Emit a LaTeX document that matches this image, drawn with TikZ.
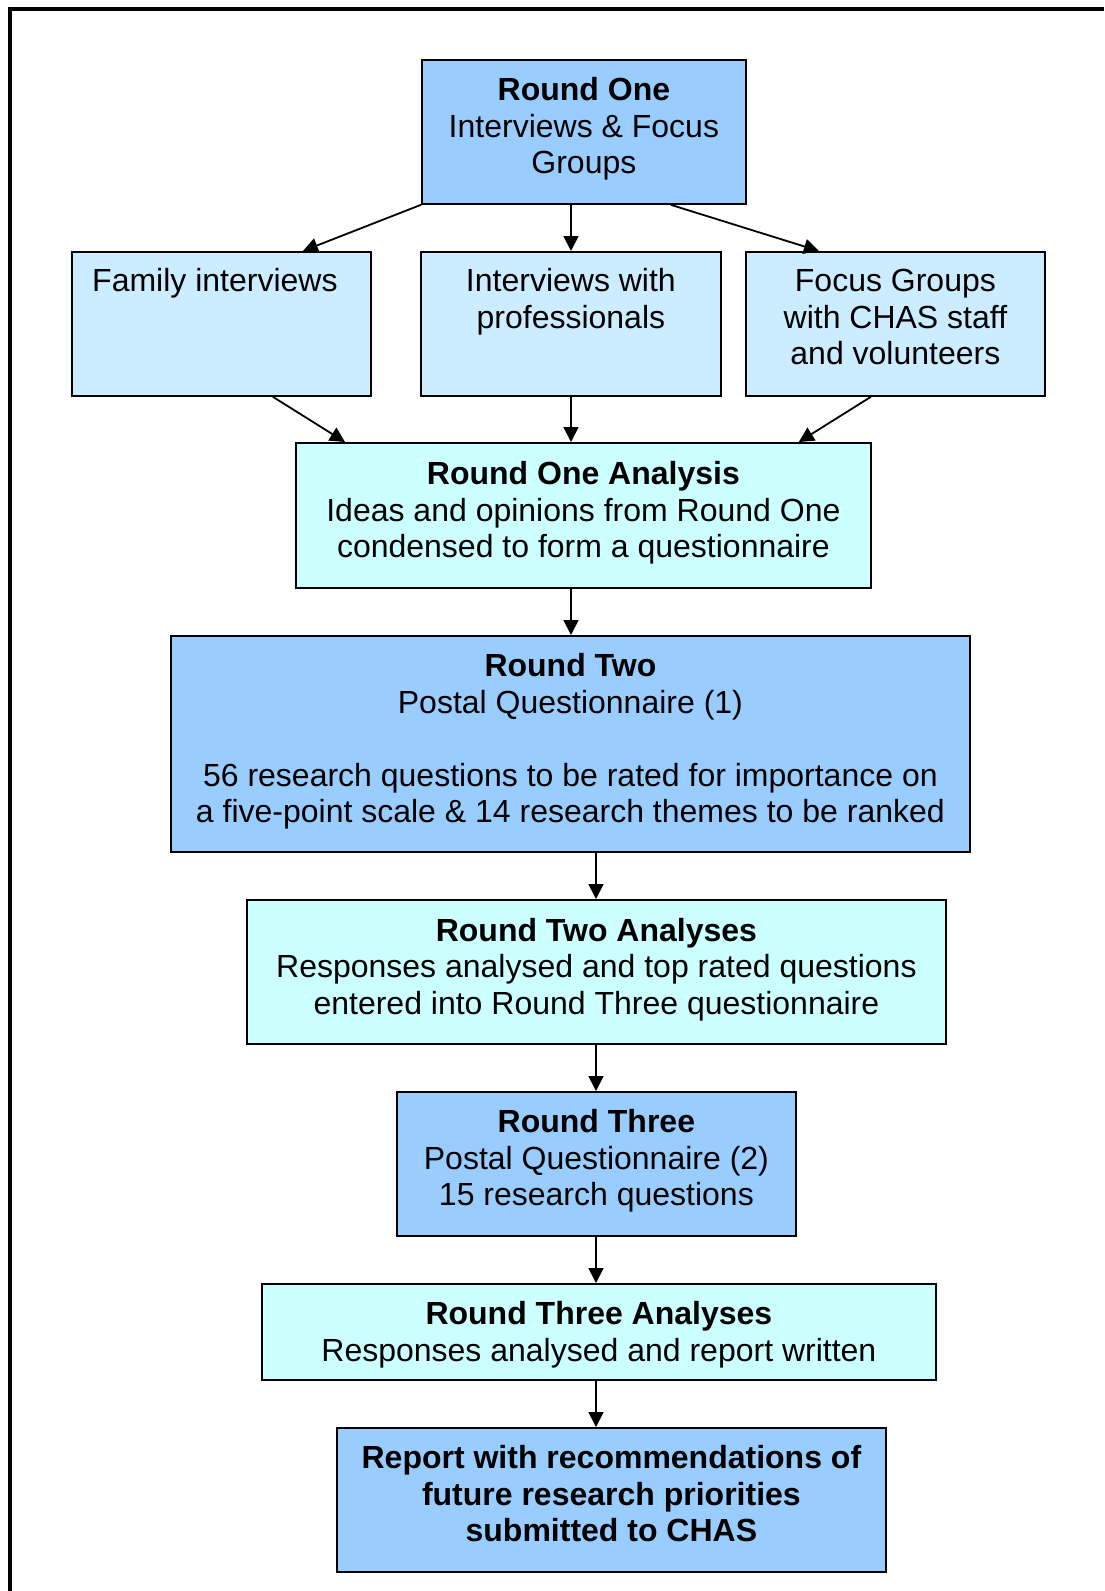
\documentclass[tikz,border=0pt]{standalone}
\usepackage{fontspec}
\setmainfont{Liberation Sans}
\usetikzlibrary{arrows.meta}
\definecolor{bluedark}{HTML}{99CCFF}
\definecolor{bluelight}{HTML}{CCECFF}
\definecolor{cyanlight}{HTML}{CCFFFF}
\tikzset{
  box/.style={draw=black, line width=1.8pt, inner sep=0pt, anchor=north west},
  txt/.style={anchor=north, inner sep=0pt, align=center, font=\fontsize{32}{36.5}\selectfont},
  arr/.style={line width=1.8pt, -{Triangle[length=15pt,width=15pt]}},
  frame/.style={line width=4pt, line join=miter}
}
\begin{document}
\begin{tikzpicture}[x=1pt,y=-1pt]
\useasboundingbox (0,0) rectangle (1104,1591);
\fill[white] (0,0) rectangle (1104,1591);
\draw[frame] (10,1591) -- (10,9) -- (1104,9);

% boxes
\node[box, fill=bluedark, minimum width=324pt, minimum height=144pt] (r1) at (421,59) {};
\node[box, fill=bluelight, minimum width=299pt, minimum height=144pt] (fam) at (71,251) {};
\node[box, fill=bluelight, minimum width=300pt, minimum height=144pt] (prof) at (420,251) {};
\node[box, fill=bluelight, minimum width=299pt, minimum height=144pt] (foc) at (745,251) {};
\node[box, fill=cyanlight, minimum width=575pt, minimum height=145pt] (roa) at (295,442) {};
\node[box, fill=bluedark, minimum width=799pt, minimum height=216pt] (r2) at (170,635) {};
\node[box, fill=cyanlight, minimum width=699pt, minimum height=144pt] (r2a) at (246,899) {};
\node[box, fill=bluedark, minimum width=399pt, minimum height=144pt] (r3) at (396,1091) {};
\node[box, fill=cyanlight, minimum width=674pt, minimum height=96pt] (r3a) at (261,1283) {};
\node[box, fill=bluedark, minimum width=549pt, minimum height=144pt] (rep) at (336,1427) {};

% texts
\node[txt] (r1t) at ([yshift=-16pt]r1.north) {\strut\textbf{Round One}\\Interviews \& Focus\\Groups};
\node[txt] (famt) at ([yshift=-15pt,xshift=-6.5pt]fam.north) {\strut Family interviews};
\node[txt] (proft) at ([yshift=-15pt]prof.north) {\strut Interviews with\\professionals};
\node[txt] (foct) at ([yshift=-15pt]foc.north) {\strut Focus Groups\\with CHAS staff\\and volunteers};
\node[txt] (roat) at ([yshift=-17pt]roa.north) {\strut\textbf{Round One Analysis}\\Ideas and opinions from Round One\\condensed to form a questionnaire};
\node[txt] (r2t) at ([yshift=-16pt]r2.north) {\strut\textbf{Round Two}\\Postal Questionnaire (1)\\[36.5pt]56 research questions to be rated for importance on\\a five-point scale \& 14 research themes to be ranked};
\node[txt] (r2at) at ([yshift=-16.5pt]r2a.north) {\strut\textbf{Round Two Analyses}\\Responses analysed and top rated questions\\entered into Round Three questionnaire};
\node[txt] (r3t) at ([yshift=-16pt]r3.north) {\strut\textbf{Round Three}\\Postal Questionnaire (2)\\15 research questions};
\node[txt] (r3at) at ([yshift=-16pt]r3a.north) {\strut\textbf{Round Three Analyses}\\Responses analysed and report written};
\node[txt, font=\fontsize{32}{36.5}\selectfont\bfseries] (rept) at ([yshift=-16pt]rep.north) {\strut Report with recommendations of\\future research priorities\\submitted to CHAS};

% connectors
\coordinate (c1) at (571,0);
\coordinate (c2) at (596,0);
\draw[arr] (r1.south west) -- ([xshift=81.5pt]fam.north);
\draw[arr] (c1 |- r1.south) -- (c1 |- prof.north);
\draw[arr] ([xshift=-76pt]r1.south east) -- ([xshift=-76.5pt]foc.north);
\draw[arr] ([xshift=51.5pt]fam.south) -- ([xshift=50pt]roa.north west);
\draw[arr] (c1 |- prof.south) -- (c1 |- roa.north);
\draw[arr] ([xshift=-24.5pt]foc.south) -- ([xshift=-73pt]roa.north east);
\draw[arr] (c1 |- roa.south) -- (c1 |- r2.north);
\draw[arr] (c2 |- r2.south) -- (c2 |- r2a.north);
\draw[arr] (c2 |- r2a.south) -- (c2 |- r3.north);
\draw[arr] (c2 |- r3.south) -- (c2 |- r3a.north);
\draw[arr] (c2 |- r3a.south) -- (c2 |- rep.north);
\end{tikzpicture}
\end{document}
